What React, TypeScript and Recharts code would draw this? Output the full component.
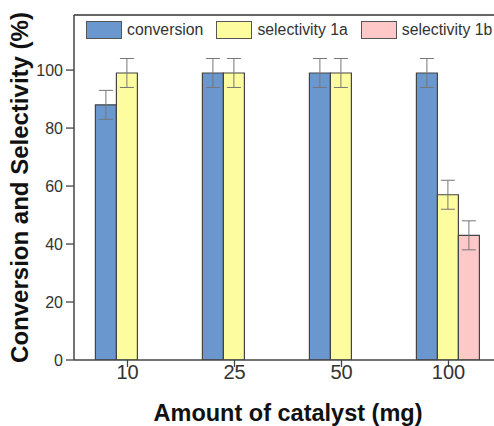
import React from "react";
import {
  BarChart,
  Bar,
  XAxis,
  YAxis,
  ErrorBar,
  Legend,
  ReferenceLine,
} from "recharts";

const categories = ["10", "25", "50", "100"];
const conversion = [88, 99, 99, 99];
const conversionErr = [5, 5, 5, 5];
const selectivity1a = [99, 99, 99, 57];
const selectivity1aErr = [5, 5, 5, 5];
const selectivity1b = [null, null, null, 43];
const selectivity1bErr = [null, null, null, 5];

const yMajorTicks = [0, 20, 40, 60, 80, 100];
const yMinorTicks = [10, 30, 50, 70, 90, 110];
const xMinorTicks = [1, 2, 3];

const FONT = "'Liberation Sans', Arial, sans-serif";

const data = categories.map((c, i) => ({
  amount: c,
  conversion: conversion[i],
  conversionErr: conversionErr[i],
  sel1a: selectivity1a[i],
  sel1aErr: selectivity1aErr[i],
  sel1b: selectivity1b[i],
  sel1bErr: selectivity1bErr[i],
}));

function LegendBoxes({ payload }: any) {
  return (
    <div
      style={{
        display: "flex",
        alignItems: "center",
        fontFamily: FONT,
        fontSize: 15.8,
        color: "#333",
        lineHeight: "18px",
        whiteSpace: "nowrap",
      }}
    >
      {(payload || []).map((p: any) => (
        <div
          key={p.value}
          style={{ display: "flex", alignItems: "center", marginRight: 13 }}
        >
          <span
            style={{
              display: "inline-block",
              width: 36,
              height: 18,
              boxSizing: "border-box",
              background: p.color,
              border: "1.2px solid #555",
              marginRight: 5,
            }}
          />
          {p.value}
        </div>
      ))}
    </div>
  );
}

export default function App() {
  return (
    <div
      style={{
        position: "absolute",
        left: 0,
        top: 0,
        width: 494,
        height: 426,
        overflow: "hidden",
        background: "#fff",
      }}
    >
      <BarChart
        width={510}
        height={426}
        data={data}
        margin={{ top: 15, right: 8, bottom: 0, left: 0 }}
        barCategoryGap="20%"
        barGap={0}
        style={{ fontFamily: FONT }}
      >
        {/* minor ticks first so they sit on the same line as the main axes */}
        <XAxis
          xAxisId="minor"
          type="number"
          domain={[0, 4]}
          allowDataOverflow
          ticks={xMinorTicks}
          height={0}
          tick={false}
          tickSize={4}
          axisLine={false}
          tickLine={{ stroke: "#444", strokeWidth: 1.3 }}
        />
        <XAxis
          xAxisId="cat"
          dataKey="amount"
          height={66}
          tickSize={7}
          tickMargin={-2}
          axisLine={{ stroke: "#444", strokeWidth: 1.5 }}
          tickLine={{ stroke: "#444", strokeWidth: 1.3 }}
          tick={{ fontSize: 20, fill: "#333", fontFamily: FONT }}
          label={{
            value: "Amount of catalyst (mg)",
            position: "insideBottom",
            offset: 5,
            style: {
              fontSize: 23.5,
              fontWeight: "bold",
              fill: "#111",
              fontFamily: FONT,
            },
          }}
        />
        <YAxis
          yAxisId="minor"
          domain={[0, 119]}
          allowDataOverflow
          ticks={yMinorTicks}
          width={0}
          tick={false}
          tickSize={5}
          axisLine={false}
          tickLine={{ stroke: "#444", strokeWidth: 1.3 }}
        />
        <YAxis
          yAxisId="main"
          domain={[0, 119]}
          allowDataOverflow
          ticks={yMajorTicks}
          width={74}
          tickSize={8}
          tickMargin={3}
          axisLine={{ stroke: "#444", strokeWidth: 1.5 }}
          tickLine={{ stroke: "#444", strokeWidth: 1.3 }}
          tick={{ fontSize: 16, fill: "#333", fontFamily: FONT }}
          label={{
            value: "Conversion and Selectivity (%)",
            angle: -90,
            position: "insideLeft",
            offset: 19,
            style: {
              textAnchor: "middle",
              fontSize: 24,
              fontWeight: "bold",
              fill: "#111",
              fontFamily: FONT,
            },
          }}
        />
        <ReferenceLine
          y={119}
          yAxisId="main"
          xAxisId="cat"
          stroke="#666"
          strokeWidth={2}
        />
        <Legend
          layout="horizontal"
          verticalAlign="middle"
          align="center"
          wrapperStyle={{ left: 86, top: 21, width: 430 }}
          content={<LegendBoxes />}
        />
        <Bar
          dataKey="conversion"
          name="conversion"
          xAxisId="cat"
          yAxisId="main"
          fill="#6b97cf"
          stroke="#444"
          strokeWidth={1.2}
          isAnimationActive={false}
        >
          <ErrorBar dataKey="conversionErr" width={7} stroke="#777" strokeWidth={1} />
        </Bar>
        <Bar
          dataKey="sel1a"
          name="selectivity 1a"
          xAxisId="cat"
          yAxisId="main"
          fill="#fdfc9e"
          stroke="#444"
          strokeWidth={1.2}
          isAnimationActive={false}
        >
          <ErrorBar dataKey="sel1aErr" width={7} stroke="#777" strokeWidth={1} />
        </Bar>
        <Bar
          dataKey="sel1b"
          name="selectivity 1b"
          xAxisId="cat"
          yAxisId="main"
          fill="#ffc8c8"
          stroke="#444"
          strokeWidth={1.2}
          isAnimationActive={false}
        >
          <ErrorBar dataKey="sel1bErr" width={7} stroke="#777" strokeWidth={1} />
        </Bar>
      </BarChart>
    </div>
  );
}
